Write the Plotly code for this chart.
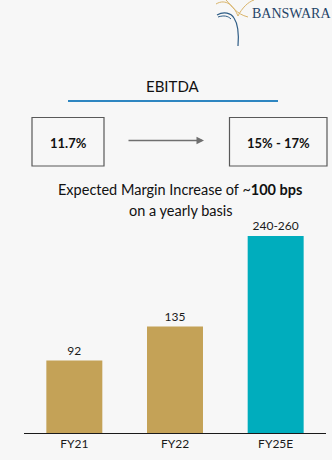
import plotly.graph_objects as go

# EBITDA bar data (bps)
years = ["FY21", "FY22", "FY25E"]
values = [92, 135, 250]
value_labels = ["92", "135", "240-260"]
bar_colors = ["#c4a257", "#c4a257", "#00adbd"]

margin_now = "11.7%"
margin_target = "15% - 17%"

W, H = 332, 460
L, R, B, T = 24, 6, 27, 0
PW, PH = W - L - R, H - B - T
PX_PER_UNIT = 0.788
FONT = "Lato, 'Open Sans', sans-serif"


def px(x):
    return (x - L) / PW


def py(y):
    return (H - B - y) / PH


fig = go.Figure(
    go.Bar(
        x=years,
        y=values,
        marker=dict(color=bar_colors, line=dict(width=0)),
        text=value_labels,
        textposition="outside",
        textfont=dict(family=FONT, size=12, color="#1a1a1a"),
        cliponaxis=False,
        width=0.556,
    )
)

shapes = [
    # blue rule under the heading
    dict(type="line", xref="paper", yref="paper", x0=px(68), x1=px(278),
         y0=py(101), y1=py(101), line=dict(color="#2e86c1", width=2)),
    # value boxes
    dict(type="rect", xref="paper", yref="paper", x0=px(32), x1=px(104),
         y0=py(117.5), y1=py(166), line=dict(color="#595959", width=1.2)),
    dict(type="rect", xref="paper", yref="paper", x0=px(229.5), x1=px(327),
         y0=py(117.5), y1=py(166), line=dict(color="#595959", width=1.2)),
    # logo mark strokes
    dict(type="path", xref="paper", yref="paper",
         path=f"M {px(216)} {py(4)} C {px(226)} {py(-2)}, {px(234)} {py(6)}, {px(238)} {py(16)} "
              f"C {px(242)} {py(8)}, {px(248)} {py(2)}, {px(254)} {py(0)}",
         line=dict(color="#d9b46a", width=1)),
    dict(type="path", xref="paper", yref="paper",
         path=f"M {px(226)} {py(0)} C {px(232)} {py(6)}, {px(236)} {py(14)}, {px(248)} {py(17)}",
         line=dict(color="#d9b46a", width=1)),
    dict(type="path", xref="paper", yref="paper",
         path=f"M {px(217)} {py(15)} C {px(224)} {py(11)}, {px(231)} {py(13)}, {px(234)} {py(18)} "
              f"C {px(238)} {py(24)}, {px(239)} {py(34)}, {px(238)} {py(46)}",
         line=dict(color="#2f5d86", width=1.2)),
    dict(type="path", xref="paper", yref="paper",
         path=f"M {px(218)} {py(17)} C {px(224)} {py(15)}, {px(228)} {py(16)}, {px(231)} {py(19)}",
         line=dict(color="#2f5d86", width=1)),
]

annotations = [
    dict(text="BANSWARA", x=px(250), y=py(13), xanchor="left", yanchor="middle",
         font=dict(family="'Liberation Serif', serif", size=14, color="#1f4468")),
    dict(text="EBITDA", x=px(173), y=py(86), xanchor="center", yanchor="middle",
         font=dict(family=FONT, size=15, color="#111111")),
    dict(text=f"<b>{margin_now}</b>", x=px(68), y=py(143), xanchor="center", yanchor="middle",
         font=dict(family=FONT, size=13, color="#111111")),
    dict(text=f"<b>{margin_target}</b>", x=px(278.5), y=py(143), xanchor="center", yanchor="middle",
         font=dict(family=FONT, size=13, color="#111111")),
    dict(text="", x=px(204), y=py(140.5), ax=-77, ay=0, axref="pixel", ayref="pixel",
         showarrow=True, arrowhead=2, arrowsize=1, arrowwidth=1.5, arrowcolor="#6f6f6f"),
    dict(text="Expected Margin Increase of ~<b>100 bps</b>", x=px(180), y=py(199.5),
         xanchor="center", yanchor="bottom",
         font=dict(family=FONT, size=14.5, color="#111111")),
    dict(text="on a yearly basis", x=px(180.5), y=py(199.5),
         xanchor="center", yanchor="top",
         font=dict(family=FONT, size=14.5, color="#111111")),
]
for a in annotations:
    a.setdefault("xref", "paper")
    a.setdefault("yref", "paper")
    a.setdefault("showarrow", False)

fig.update_layout(
    width=W,
    height=H,
    margin=dict(l=L, r=R, t=T, b=B),
    paper_bgcolor="#f7f7f7",
    plot_bgcolor="#f7f7f7",
    showlegend=False,
    shapes=shapes,
    annotations=annotations,
    xaxis=dict(
        showline=True, linecolor="#1a1a1a", linewidth=1,
        ticks="", showgrid=False, zeroline=False,
        tickfont=dict(family=FONT, size=12, color="#1a1a1a"),
        fixedrange=True,
    ),
    yaxis=dict(
        range=[0, PH / PX_PER_UNIT], visible=False, showgrid=False,
        zeroline=False, fixedrange=True,
    ),
)

fig.write_html("out.html", config={"displayModeBar": False})
